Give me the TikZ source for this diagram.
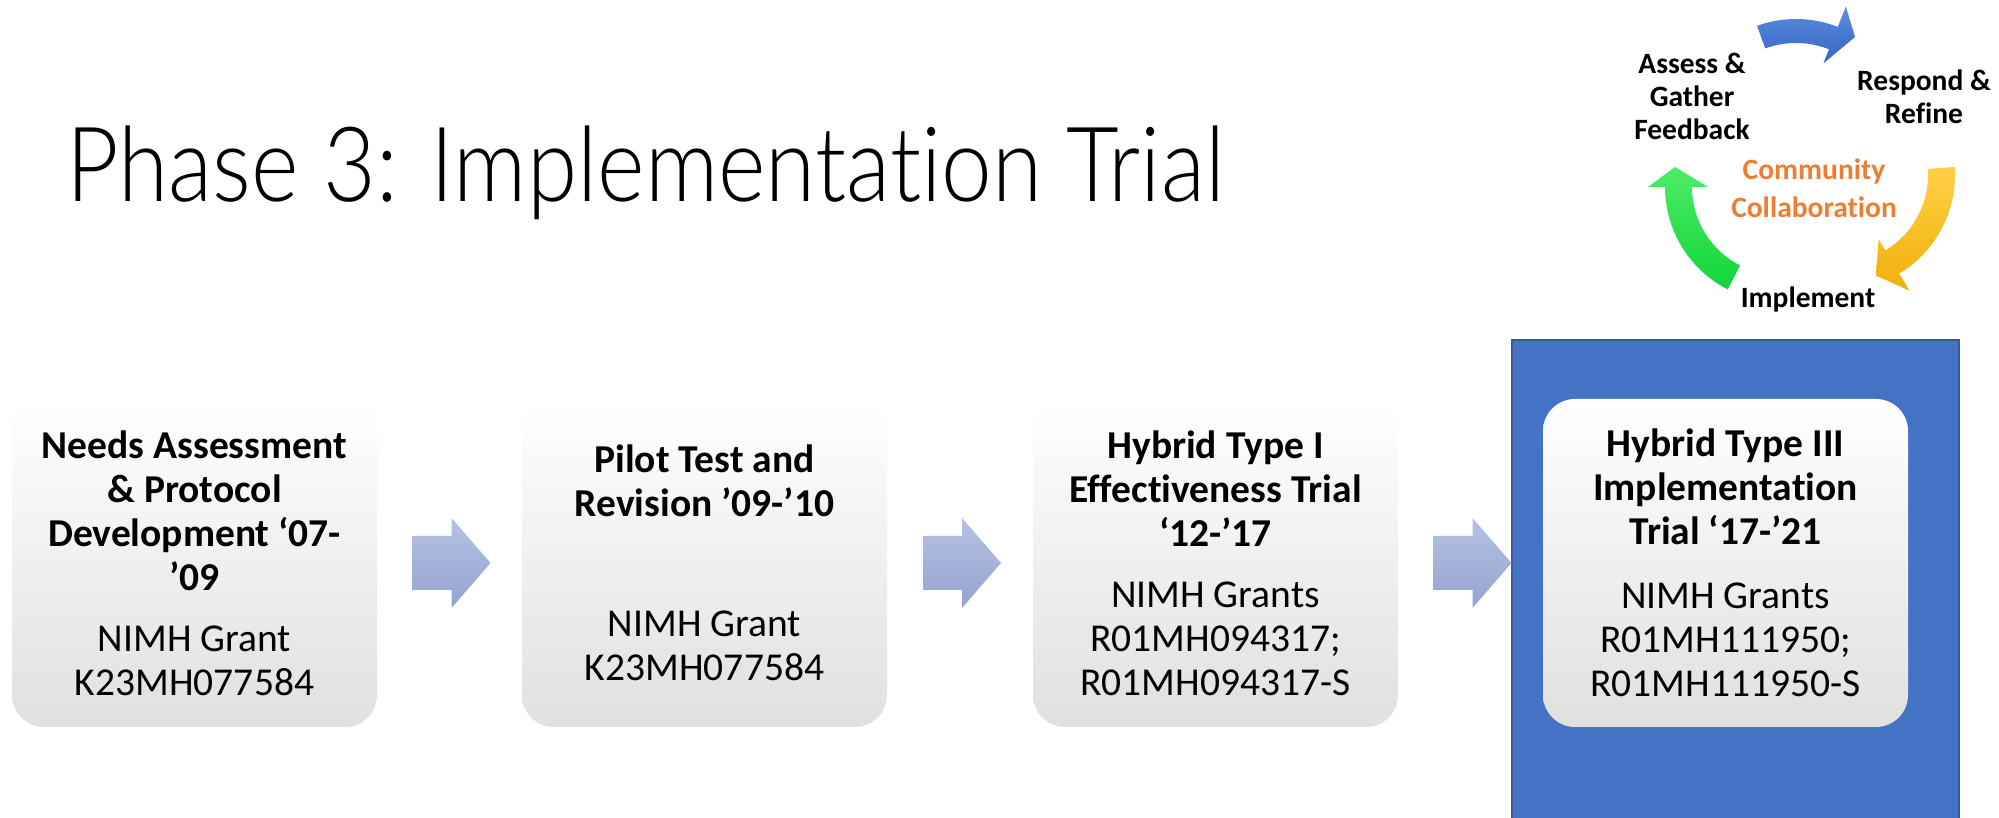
\documentclass[tikz,border=0pt]{standalone}
\usepackage{fontspec}
\setmainfont[Ligatures={NoCommon}]{Carlito}
\newfontfamily\titlefont[Ligatures={NoCommon},FakeStretch=0.875]{Lato Light}
\usetikzlibrary{calc}
\definecolor{hlblue}{RGB}{68,114,196}
\definecolor{hlborder}{RGB}{56,90,156}
\definecolor{orangetxt}{RGB}{237,125,49}
\definecolor{boxgray}{RGB}{224,224,224}
\definecolor{arrtop}{RGB}{182,194,228}
\definecolor{arrbot}{RGB}{148,163,208}
\definecolor{bluetop}{RGB}{92,142,224}
\definecolor{bluebot}{RGB}{52,100,196}
\definecolor{yeltop}{RGB}{255,208,70}
\definecolor{yelbot}{RGB}{240,176,10}
\definecolor{grntop}{RGB}{76,236,104}
\definecolor{grnbot}{RGB}{18,214,56}
\begin{document}
\begin{tikzpicture}[x=1pt,y=1pt,
  stagebox/.style={rounded corners=32pt, minimum width=365pt, minimum height=328pt,
    inner sep=0pt, top color=white, middle color=white, bottom color=boxgray,
    align=center, font=\fontsize{39.5}{44}\selectfont, text=black},
  cyclabel/.style={font=\bfseries\fontsize{29.5}{33}\selectfont, align=center, inner sep=0pt},
  blockarrow/.pic={\shade[top color=arrtop, bottom color=arrbot]
    (-37,-27) -- (2,-27) -- (2,-45) -- (41,0) -- (2,45) -- (2,27) -- (-37,27) -- cycle;}
]
\path[use as bounding box] (0,0) rectangle (1999,818);
\fill[white] (0,0) rectangle (1999,818);

% title
\node[anchor=base west, font=\titlefont\fontsize{104}{120}\selectfont, inner sep=0pt] (title)
  at (66,616) {Phase 3: Implementation Trial};

% highlight panel
\begin{scope}
\clip (0,0) rectangle (1999,818);
\node[draw=hlborder, line width=2pt, fill=hlblue, minimum width=447pt, minimum height=495pt,
  anchor=north west, inner sep=0pt] (hl) at (1511,479) {};
\end{scope}

% stage boxes
\node[stagebox] (b1) at (194.5,255) {\textbf{Needs Assessment}\\\textbf{\& Protocol}\\\textbf{Development ‘07-}\\\textbf{’09}\\[17pt]NIMH Grant\\K23MH077584};
\node[stagebox] (b2) at (704.5,255) {\textbf{Pilot Test and}\\\textbf{Revision ’09-’10}\\[76pt]NIMH Grant\\K23MH077584};
\node[stagebox] (b3) at (1215.5,255) {\textbf{Hybrid Type I}\\\textbf{Effectiveness Trial}\\\textbf{‘12-’17}\\[17pt]NIMH Grants\\R01MH094317;\\R01MH094317-S};
\node[stagebox] (b4) at (1725.5,255) {\textbf{Hybrid Type III}\\\textbf{Implementation}\\\textbf{Trial ‘17-’21}\\[20pt]NIMH Grants\\R01MH111950;\\R01MH111950-S};

% block arrows between stages
\pic at ($(b1.east)!0.5!(b2.west)$) {blockarrow};
\pic at ($(b2.east)!0.5!(b3.west)$) {blockarrow};
\pic at ($(b3.east)!0.5!(b4.west)$) {blockarrow};

% cycle graphic
\begin{scope}[shift={(1796,685)}]
\shade[top color=bluetop, bottom color=bluebot]
  (110:114) arc[start angle=110,end angle=68.5,radius=114] -- (68.5:136) -- (58.4:112.7)
  -- (68.5:75) -- (68.5:90) arc[start angle=68.5,end angle=110,radius=90] -- cycle;
\end{scope}
\begin{scope}[shift={(1840,643)}]
\shade[top color=yeltop, bottom color=yelbot]
  (4:115) arc[start angle=4,end angle=-59,radius=115] -- (-59:135) -- (-70.3:106.8)
  -- (-59:75) -- (-59:88) arc[start angle=-59,end angle=4,radius=88] -- cycle;
\end{scope}
\begin{scope}[shift={(1780,631)}]
\shade[top color=grntop, bottom color=grnbot]
  (-117:115) arc[start angle=-117,end angle=-180,radius=115] -- (-180:132) -- (-190.8:106.9)
  -- (-180:72) -- (-180:88) arc[start angle=-180,end angle=-117,radius=88] -- cycle;
\end{scope}

\node[cyclabel] (assess) at (1692,721.5) {Assess \&\\Gather\\Feedback};
\node[cyclabel] (respond) at (1924,721.5) {Respond \&\\Refine};
\node[cyclabel, text=orangetxt, font=\bfseries\fontsize{29.5}{38}\selectfont] (community)
  at (1814,629.5) {Community\\Collaboration};
\node[cyclabel, anchor=base] (implement) at (1808,510) {Implement};
\end{tikzpicture}
\end{document}
